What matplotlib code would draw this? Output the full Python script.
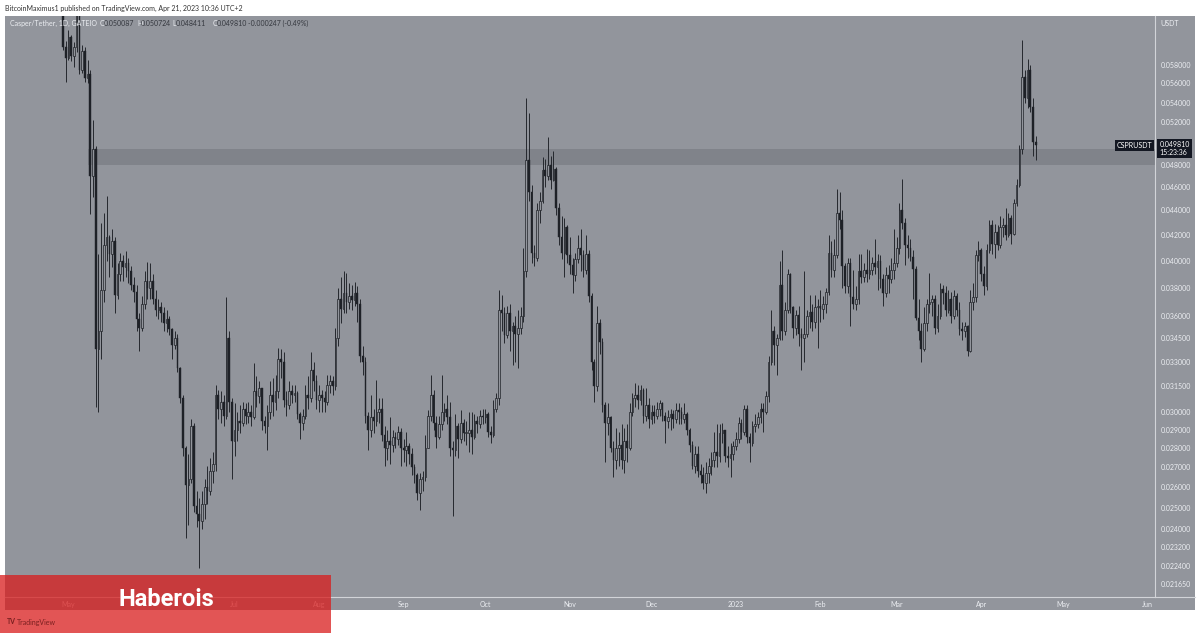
import numpy as np
import pandas as pd
import matplotlib
matplotlib.use("Agg")
import matplotlib.pyplot as plt
import matplotlib.dates as mdates
from matplotlib.patches import Rectangle
from matplotlib.lines import Line2D
from matplotlib.ticker import NullLocator

plt.rcParams['font.family'] = ['Lato', 'DejaVu Sans']

W, H = 1200, 634

# CSPR/USDT daily candles, prices in units of 0.0001 USDT, open = previous close
first_day = "2022-04-29"
first_open = 655
close = [
    600, 588, 612, 590, 600, 648, 575, 596, 566, 570,
    470, 494, 338, 350, 378, 412, 418, 405, 415, 375,
    390, 400, 395, 398, 392, 382, 377, 358, 352, 368,
    385, 380, 385, 372, 364, 366, 362, 355, 358, 351,
    341, 345, 326, 308, 280, 261, 264, 292, 251, 247,
    244, 252, 260, 258, 268, 272, 310, 302, 306, 298,
    345, 306, 284, 290, 295, 294, 302, 298, 300, 297,
    312, 309, 314, 295, 292, 300, 310, 306, 312, 332,
    330, 307, 304, 312, 310, 311, 299, 294, 298, 310,
    308, 325, 318, 307, 310, 308, 306, 316, 318, 315,
    345, 372, 365, 376, 370, 374, 371, 376, 368, 334,
    330, 298, 290, 297, 295, 300, 302, 287, 280, 284,
    282, 286, 285, 289, 280, 279, 281, 277, 270, 266,
    257, 264, 265, 280, 298, 310, 294, 286, 293, 300,
    302, 297, 280, 279, 292, 285, 294, 288, 288, 290,
    286, 295, 293, 298, 297, 299, 289, 287, 302, 308,
    364, 362, 347, 362, 350, 353, 348, 352, 360, 392,
    484, 456, 406, 402, 440, 448, 475, 470, 480, 466,
    476, 442, 418, 406, 426, 404, 397, 389, 401, 410,
    404, 393, 405, 374, 330, 315, 355, 343, 304, 294,
    297, 280, 274, 280, 282, 274, 284, 280, 300, 308,
    310, 307, 313, 298, 304, 296, 300, 298, 302, 305,
    298, 295, 297, 299, 296, 301, 300, 296, 299, 290,
    282, 271, 277, 268, 266, 262, 267, 271, 274, 278,
    276, 288, 290, 276, 275, 277, 281, 285, 294, 289,
    302, 286, 283, 292, 293, 297, 302, 300, 309, 330,
    350, 341, 345, 382, 350, 364, 390, 366, 352, 361,
    348, 345, 348, 360, 363, 356, 366, 367, 365, 368,
    377, 406, 393, 404, 438, 432, 396, 381, 398, 373,
    368, 372, 392, 388, 393, 390, 393, 398, 395, 400,
    386, 376, 389, 386, 393, 398, 410, 440, 430, 412,
    410, 403, 394, 359, 350, 338, 355, 368, 370, 372,
    352, 360, 379, 376, 364, 372, 360, 374, 364, 351,
    350, 353, 337, 370, 373, 404, 408, 390, 381, 408,
    428, 413, 422, 412, 426, 428, 420, 434, 421, 446,
    462, 494, 567, 545, 574, 536, 500.87, 498.10,
]
high = [
    672, 607, 620, 614, 606, 665, 652, 602, 600, 585,
    575, 522, 497, 405, 430, 438, 452, 420, 425, 418,
    398, 406, 404, 407, 402, 396, 388, 382, 362, 374,
    392, 399, 398, 390, 378, 372, 370, 366, 364, 360,
    352, 350, 348, 327, 310, 281, 277, 296, 294, 258,
    255, 258, 264, 271, 275, 278, 316, 313, 312, 310,
    373, 350, 308, 305, 300, 304, 306, 305, 306, 304,
    329, 321, 318, 314, 298, 304, 318, 320, 322, 339,
    338, 336, 312, 318, 316, 316, 312, 300, 302, 316,
    321, 336, 330, 322, 316, 313, 312, 322, 322, 321,
    352, 380, 388, 392, 391, 383, 382, 384, 381, 372,
    340, 333, 300, 310, 302, 319, 308, 308, 292, 290,
    297, 290, 289, 292, 291, 285, 289, 283, 280, 272,
    267, 267, 268, 287, 301, 322, 313, 298, 298, 322,
    305, 310, 306, 284, 299, 294, 301, 296, 295, 300,
    300, 299, 298, 301, 302, 302, 300, 292, 307, 311,
    378, 375, 366, 367, 368, 356, 360, 364, 366, 410,
    545, 529, 462, 412, 446, 456, 487, 485, 506, 488,
    493, 478, 446, 435, 434, 428, 418, 402, 406, 420,
    425, 408, 420, 408, 376, 332, 367, 358, 345, 306,
    305, 298, 284, 291, 289, 293, 291, 293, 305, 311,
    317, 316, 316, 314, 314, 308, 304, 304, 306, 307,
    306, 300, 301, 302, 301, 305, 305, 303, 305, 300,
    291, 284, 281, 281, 272, 270, 273, 275, 278, 289,
    293, 293, 294, 290, 281, 283, 284, 289, 297, 296,
    304, 304, 288, 295, 299, 300, 305, 305, 312, 334,
    364, 353, 348, 400, 408, 370, 394, 391, 367, 364,
    367, 352, 392, 364, 375, 368, 375, 372, 378, 374,
    380, 420, 415, 417, 458, 456, 440, 398, 402, 402,
    393, 381, 405, 405, 398, 409, 408, 403, 417, 405,
    404, 390, 395, 397, 402, 425, 418, 446, 467, 434,
    420, 417, 408, 396, 372, 355, 366, 372, 391, 375,
    375, 368, 383, 382, 381, 378, 377, 378, 376, 370,
    356, 356, 354, 378, 383, 408, 415, 410, 396, 413,
    432, 432, 429, 428, 435, 434, 442, 438, 436, 450,
    467, 498, 608, 575, 587, 580, 545, 507.24,
]
low = [
    597, 562, 585, 584, 578, 595, 570, 571, 562, 560,
    437, 451, 303, 300, 332, 370, 400, 388, 395, 362,
    372, 385, 385, 388, 383, 378, 370, 350, 337, 350,
    365, 372, 372, 368, 360, 358, 356, 350, 349, 347,
    332, 338, 324, 305, 276, 236, 242, 262, 248, 241,
    223, 240, 245, 252, 256, 262, 268, 296, 294, 292,
    296, 300, 264, 276, 284, 288, 292, 293, 294, 292,
    296, 303, 305, 290, 288, 279, 296, 298, 301, 308,
    320, 303, 298, 302, 305, 306, 296, 285, 290, 296,
    302, 306, 312, 302, 300, 300, 300, 304, 311, 310,
    313, 340, 355, 362, 362, 365, 364, 367, 356, 330,
    322, 294, 279, 286, 288, 292, 294, 284, 271, 274,
    272, 278, 280, 282, 271, 273, 271, 272, 266, 262,
    254, 249, 258, 263, 280, 295, 290, 280, 285, 290,
    295, 293, 276, 246, 276, 275, 283, 284, 282, 278,
    277, 285, 288, 291, 293, 294, 286, 283, 286, 300,
    304, 350, 342, 345, 337, 328, 330, 326, 348, 356,
    388, 448, 398, 396, 400, 430, 446, 460, 466, 458,
    465, 436, 412, 401, 388, 398, 390, 376, 385, 398,
    392, 388, 390, 370, 325, 306, 312, 335, 300, 273,
    287, 278, 265, 269, 271, 269, 267, 273, 279, 298,
    303, 302, 304, 294, 295, 291, 293, 294, 296, 298,
    295, 283, 291, 290, 291, 294, 293, 293, 294, 287,
    278, 269, 267, 265, 262, 259, 257, 262, 266, 270,
    270, 273, 283, 273, 270, 265, 274, 279, 283, 285,
    287, 283, 273, 281, 289, 291, 294, 289, 299, 306,
    328, 328, 322, 344, 344, 347, 362, 362, 345, 347,
    340, 325, 330, 346, 352, 350, 352, 339, 356, 358,
    362, 375, 388, 388, 402, 425, 380, 376, 376, 353,
    365, 364, 368, 383, 384, 384, 386, 389, 390, 378,
    380, 367, 373, 376, 383, 386, 395, 405, 425, 397,
    402, 400, 372, 357, 344, 330, 337, 350, 362, 360,
    348, 349, 358, 368, 360, 362, 355, 358, 360, 347,
    344, 346, 334, 336, 364, 370, 400, 385, 375, 378,
    406, 405, 402, 408, 410, 418, 416, 418, 413, 420,
    444, 460, 490, 540, 535, 530, 488, 484.11,
]
unit = 1e-4
day_change = "-0.000247 (-0.49%)"

zone_lo, zone_hi = 0.0480, 0.0494
zone_from = "2022-05-08"

price_ticks = [0.058, 0.056, 0.054, 0.052, 0.048, 0.046, 0.044, 0.042, 0.040,
               0.038, 0.036, 0.0345, 0.033, 0.0315, 0.030, 0.029, 0.028, 0.027,
               0.026, 0.025, 0.024, 0.0232, 0.0224, 0.02165]
month_starts = pd.date_range("2022-05-01", "2023-06-01", freq="MS")
# June 2022 sits under the watermark and is not readable there
month_labels = ["May", "", "Jul", "Aug", "Sep", "Oct", "Nov", "Dec", "2023",
                "Feb", "Mar", "Apr", "May", "Jun"]

BG = "#92959c"
BAND = "#80838a"
DARK = "#1e2127"
TXT = "#eceef2"
LINE = "#d2d4d8"

dates = pd.date_range(first_day, periods=len(close), freq="D")
x = mdates.date2num(dates)
c = np.array(close) * unit
hi = np.array(high) * unit
lo = np.array(low) * unit
o = np.r_[first_open, close[:-1]] * unit
up = c >= o

fig = plt.figure(figsize=(W / 100, H / 100), dpi=100)
fig.patch.set_facecolor("white")
fig.add_artist(Rectangle((5 / W, 1 - 610 / H), 1190 / W, 594 / H,
                         transform=fig.transFigure, fc=BG, ec="none", zorder=-5))

ax = fig.add_axes([5 / W, 1 - 597 / H, 1150 / W, 581 / H])
ax.set_facecolor(BG)
ax.set_yscale("log")

xmin = mdates.date2num(pd.Timestamp("2022-04-07 17:00"))
xmax = mdates.date2num(pd.Timestamp("2023-06-03 19:00"))

ax.fill_between([mdates.date2num(pd.Timestamp(zone_from)), xmax], zone_lo, zone_hi,
                color=BAND, lw=0, zorder=1)

ax.vlines(x, lo, hi, color=DARK, lw=0.65, zorder=2)
body = np.maximum(np.abs(c - o), c * 0.002)
bottom = np.minimum(o, c)
ax.bar(x[up], body[up], bottom=bottom[up], width=0.6, color=BG,
       edgecolor=DARK, linewidth=0.5, zorder=3)
ax.bar(x[~up], body[~up], bottom=bottom[~up], width=0.6, color=DARK,
       edgecolor=DARK, linewidth=0.3, zorder=3)

ax.set_xlim(xmin, xmax)
ax.set_ylim(0.02111, 0.06366)

ax.yaxis.tick_right()
ax.set_yticks(price_ticks)
ax.set_yticklabels([f"{p:.6f}" for p in price_ticks])
ax.yaxis.set_minor_locator(NullLocator())
ax.tick_params(axis="y", length=0, pad=4, labelsize=5, labelcolor=TXT)
ax.set_xticks(mdates.date2num(month_starts))
ax.set_xticklabels(month_labels)
ax.tick_params(axis="x", length=0, pad=3, labelsize=5, labelcolor=TXT)
for s in ("top", "left"):
    ax.spines[s].set_visible(False)
ax.spines["right"].set_color(LINE)
ax.spines["right"].set_linewidth(0.8)
ax.spines["bottom"].set_color(LINE)
ax.spines["bottom"].set_linewidth(0.8)
fig.add_artist(Line2D([1155 / W, 1195 / W], [1 - 597 / H, 1 - 597 / H],
                      color=LINE, lw=0.8, transform=fig.transFigure))

# last price tag
last = c[-1]
tag = dict(boxstyle="square,pad=0.3", fc="#131722", ec="none")
ax.annotate("CSPRUSDT", xy=(1, last), xycoords=("axes fraction", "data"),
            xytext=(-2, 0), textcoords="offset points", ha="right", va="center",
            fontsize=5, color="white", bbox=tag, annotation_clip=False)
ax.annotate(f"{last:.6f}\n15:23:36", xy=(1, last), xycoords=("axes fraction", "data"),
            xytext=(3.2, 3.2), textcoords="offset points", ha="left", va="top",
            fontsize=5, color="white", bbox=tag, linespacing=1.15,
            annotation_clip=False)

# texts
fig.text(5 / W, 1 - 8 / H, "BitcoinMaximus1 published on TradingView.com, Apr 21, 2023 10:36 UTC+2",
         fontsize=5, color="#333333", va="center")
fig.text(1160 / W, 1 - 23 / H, "USDT", fontsize=5, color=TXT, va="center")

hy = 1 - 23 / H
fig.text(10 / W, hy, "Casper/Tether, 1D, GATEIO", fontsize=5, color=TXT, va="center")
ohlc = [("O", o[-1]), ("H", hi[-1]), ("L", lo[-1]), ("C", c[-1])]
xs = [100, 137, 172, 213]
for (k, v), xp in zip(ohlc, xs):
    fig.text(xp / W, hy, k, fontsize=5, color=TXT, va="center")
    fig.text((xp + 4) / W, hy, f"{v:.6f}", fontsize=5, color="#34373e", va="center")
fig.text(248 / W, hy, day_change, fontsize=5, color="#34373e", va="center")

# watermark banner
fig.add_artist(Rectangle((0, 1 - 633 / H), 331 / W, 58 / H, transform=fig.transFigure,
                         fc=(0.85, 0.11, 0.11, 0.75), ec="none", zorder=10))
fig.text(166 / W, 1 - 600 / H, "Haberois", fontsize=17, fontweight="bold",
         family=["Roboto", "DejaVu Sans"], color="white", ha="center", va="center",
         zorder=11)
fig.text(7 / W, 1 - 622 / H, "TV", fontsize=5, fontweight="bold", color="#7a2020",
         va="center", zorder=11)
fig.text(17 / W, 1 - 622 / H, "TradingView", fontsize=5, color="#7a2020",
         va="center", zorder=11)

fig.savefig("out.png", dpi=100, facecolor="white")
